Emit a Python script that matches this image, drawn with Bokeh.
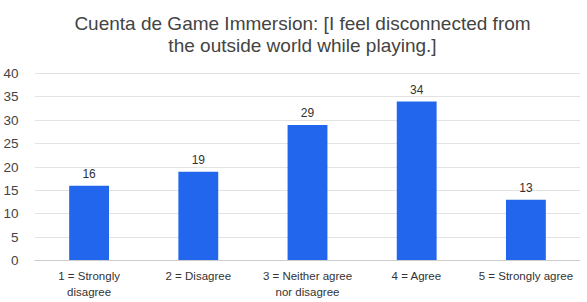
from bokeh.plotting import figure
from bokeh.embed import file_html
from bokeh.resources import INLINE
from bokeh.models import ColumnDataSource, Range1d, FixedTicker
from bokeh.core.properties import value

categories = ["1 = Strongly\ndisagree", "2 = Disagree", "3 = Neither agree\nnor disagree", "4 = Agree", "5 = Strongly agree"]
counts = [16, 19, 29, 34, 13]
y_ticks = [0, 5, 10, 15, 20, 25, 30, 35, 40]
title_lines = ["Cuenta de Game Immersion: [I feel disconnected from", "the outside world while playing.]"]

FW = 546          # frame width in px
PLOT_H = 187      # px from value 0 to value 40
FH = 255          # frame height (includes room for the title above 40)
y_max = y_ticks[-1]

src = ColumnDataSource(dict(cat=categories, val=counts, lbl=[str(v) for v in counts]))

p = figure(x_range=categories, y_range=Range1d(0, y_max * FH / PLOT_H),
           frame_width=FW, frame_height=FH,
           output_backend="svg", toolbar_location=None,
           min_border_left=25, min_border_right=0, min_border_top=5, min_border_bottom=34)

# title, drawn as text in the frame area above the value axis top
title_src = ColumnDataSource(dict(x=[categories[2]] * 2, y=[y_max] * 2, t=title_lines,
                                  off=[-50, -28]))
p.text(x="x", y="y", text="t", y_offset="off", source=title_src, x_offset=-5,
       text_align="center", text_baseline="alphabetic",
       text_font=value("Liberation Sans"), text_font_size="19px", text_color="#444444")

p.vbar(x="cat", top="val", width=0.365, source=src, color="#2266ee", line_color=None)
p.text(x="cat", y="val", text="lbl", source=src, text_align="center", text_baseline="alphabetic",
       y_offset=-12, text_font=value("Liberation Sans"), text_font_size="12px", text_color="#333333")

p.outline_line_color = None
p.xgrid.grid_line_color = None
p.ygrid.grid_line_color = "#e3e3e3"
p.ygrid.ticker = FixedTicker(ticks=y_ticks)

p.yaxis.ticker = FixedTicker(ticks=y_ticks)
p.yaxis.axis_line_color = None
p.yaxis.major_tick_line_color = None
p.yaxis.minor_tick_line_color = None
p.yaxis.major_label_standoff = 10
p.yaxis.major_label_text_font = "Liberation Sans"
p.yaxis.major_label_text_font_size = "13.5px"
p.yaxis.major_label_text_color = "#444444"

p.xaxis.axis_line_color = "#cccccc"
p.xaxis.major_tick_line_color = None
p.xaxis.minor_tick_line_color = None
p.xaxis.major_label_standoff = 3
p.xaxis.major_label_text_font = "Liberation Sans"
p.xaxis.major_label_text_font_size = "11.5px"
p.xaxis.major_label_text_line_height = 1.4
p.xaxis.major_label_text_color = "#333333"

open("out.html", "w").write(file_html(p, INLINE))
